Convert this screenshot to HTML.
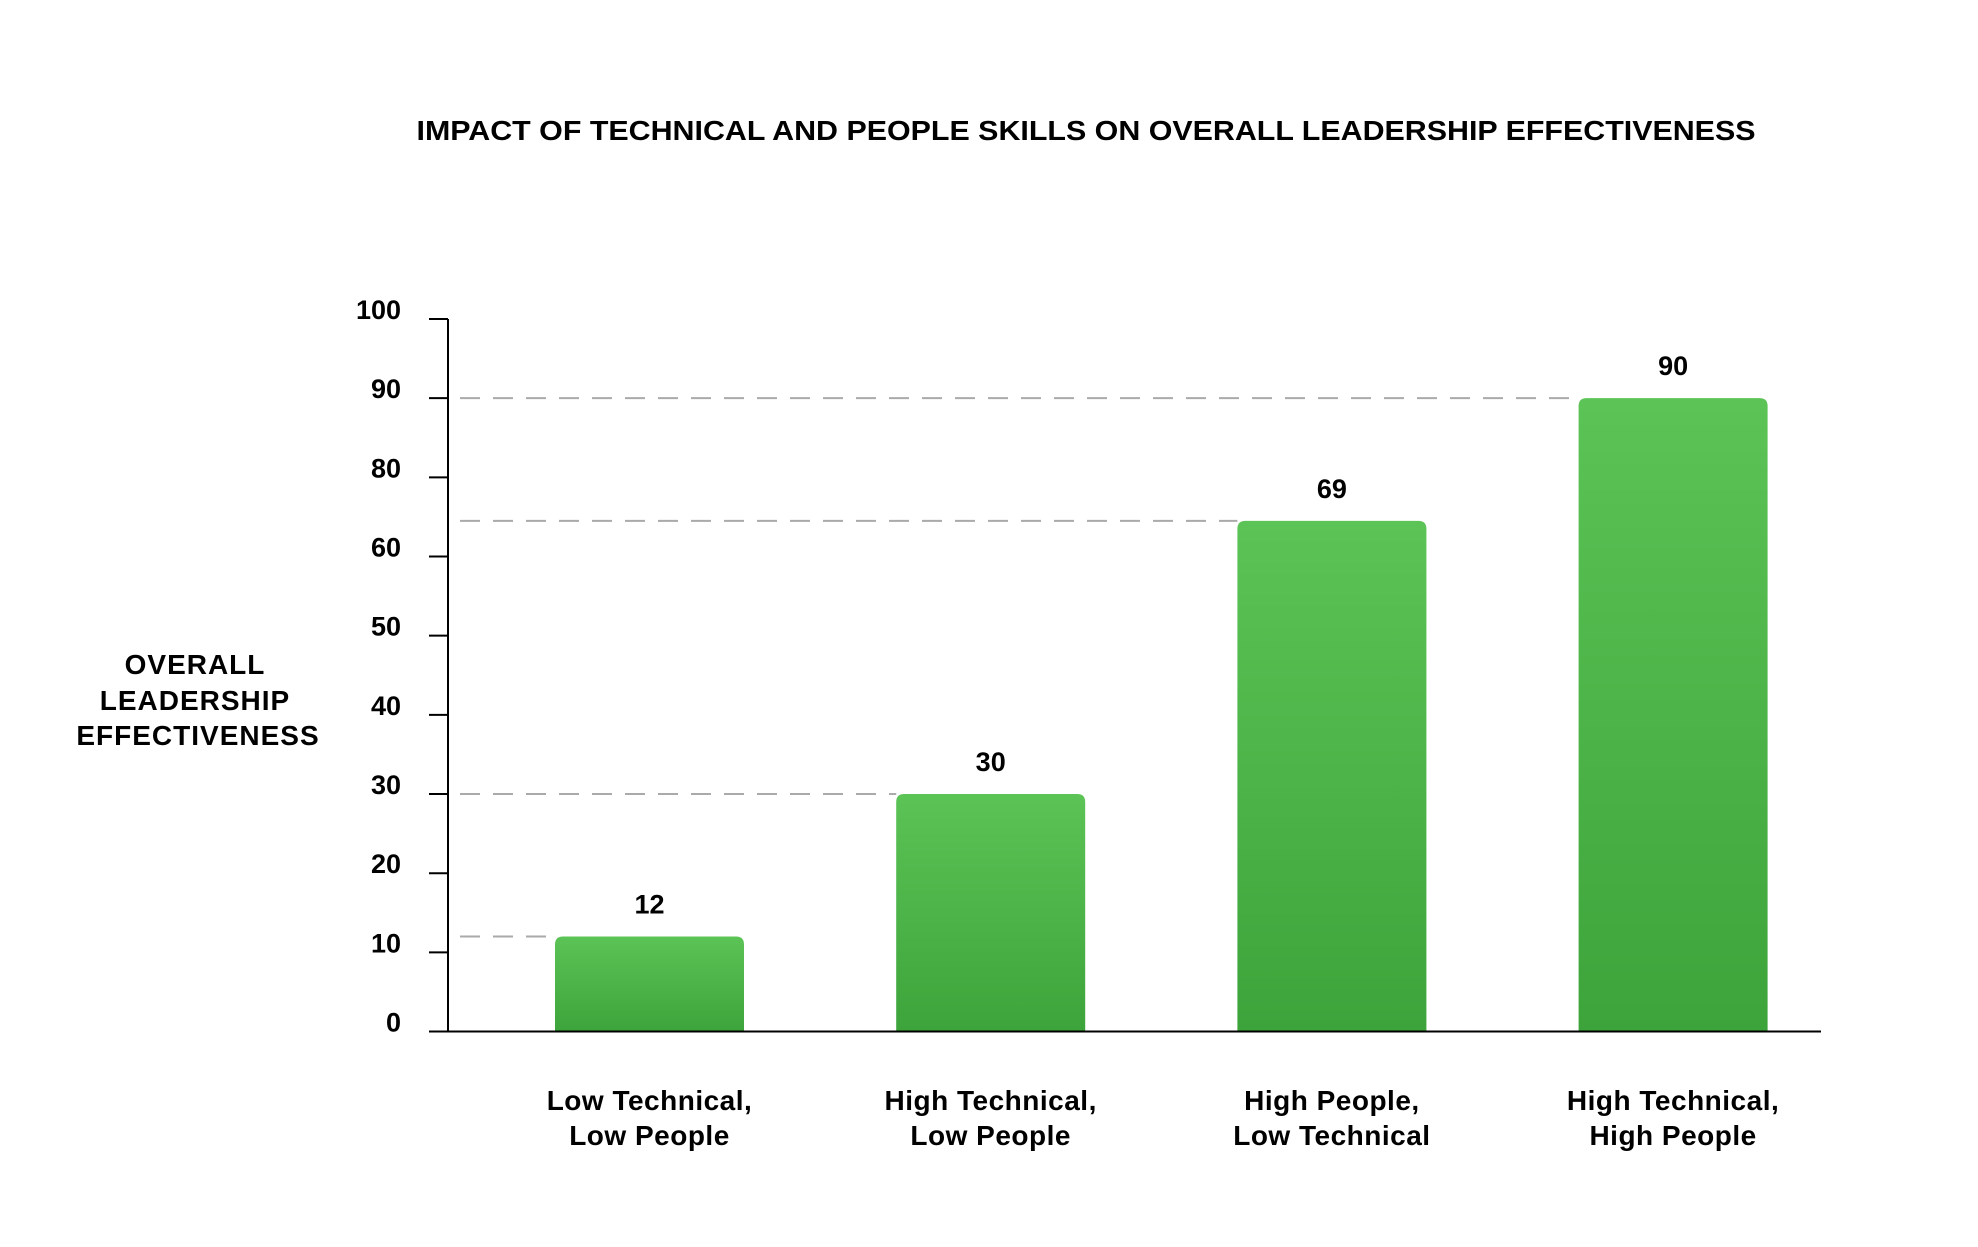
<!DOCTYPE html>
<html><head><meta charset="utf-8"><style>
html,body{margin:0;padding:0;background:#fff;}
svg{display:block;font-family:"Liberation Sans",sans-serif;}
</style></head><body>
<svg id="chart" width="1978" height="1247" viewBox="0 0 1978 1247" xmlns="http://www.w3.org/2000/svg">
<defs><linearGradient id="g" x1="0" y1="0" x2="0" y2="1"><stop offset="0" stop-color="#5cc456"/><stop offset="1" stop-color="#3ca43a"/></linearGradient></defs>
<text x="1086" y="140" text-anchor="middle" font-size="28" font-weight="600" textLength="1339" lengthAdjust="spacingAndGlyphs" fill="#000">IMPACT OF TECHNICAL AND PEOPLE SKILLS ON OVERALL LEADERSHIP EFFECTIVENESS</text>
<g font-size="28" font-weight="600" text-anchor="middle" fill="#000" letter-spacing="1">
<text x="195" y="674">OVERALL</text><text x="195" y="710">LEADERSHIP</text><text x="198" y="745">EFFECTIVENESS</text>
</g>
<g id="grid"></g><g id="bars"></g><g id="axes"></g>
</svg>
<script>
const tickValues=[100,90,80,60,50,40,30,20,10,0];
const categories=[["Low Technical,","Low People"],["High Technical,","Low People"],["High People,","Low Technical"],["High Technical,","High People"]];
const values=[12,30,69,90];
const valueLabels=["12","30","69","90"];
const NS="http://www.w3.org/2000/svg";
const top0=319,step=79.17,axisX=448,baseY=1031.5;
function tickY(i){return top0+i*step;}
function yScale(v){
  for(let i=0;i<tickValues.length-1;i++){
    const a=tickValues[i],b=tickValues[i+1];
    if(v<=a&&v>=b){return tickY(i)+(a-v)/(a-b)*step;}
  }
  return baseY;
}
function xCenter(i){return 649.5+i*341.2;}
const barW=189;
function mk(tag,attrs,parent){const e=document.createElementNS(NS,tag);for(const k in attrs)e.setAttribute(k,attrs[k]);parent.appendChild(e);return e;}
const axes=document.getElementById('axes'),grid=document.getElementById('grid'),bars=document.getElementById('bars');
let ax=mk('line',{x1:axisX,y1:top0,x2:axisX,y2:baseY,stroke:'#000','stroke-width':2},axes);


let xl=mk('line',{x1:429,y1:baseY,x2:1821,y2:baseY,stroke:'#000','stroke-width':2},axes);


tickValues.forEach((v,i)=>{
  const y=tickY(i);
  const t=mk('line',{x1:429,y1:y,x2:axisX,y2:y,stroke:'#000','stroke-width':2},axes);
  
  
  const l=mk('text',{x:401,y:y,'text-anchor':'end','font-size':27,'font-weight':600,fill:'#000'},axes);
  l.textContent=String(v);
  
  
});
values.forEach((v,i)=>{
  const y=yScale(v),cx=xCenter(i),x=cx-barW/2;
  const d=mk('line',{x1:axisX+2,y1:y,x2:x,y2:y,stroke:'#aaa','stroke-width':2,'stroke-dasharray':'20 13','stroke-dashoffset':'-10'},grid);
  
  
  const p=mk('path',{d:`M${x},${baseY}V${y+8}Q${x},${y} ${x+8},${y}H${x+barW-8}Q${x+barW},${y} ${x+barW},${y+8}V${baseY}Z`,fill:'url(#g)'},bars);
  
  
  const vl=mk('text',{x:cx,y:y-23,'text-anchor':'middle','font-size':27,'font-weight':600,fill:'#000'},bars);
  vl.textContent=valueLabels[i];
  
  
  categories[i].forEach((line,j)=>{
    const c=mk('text',{x:cx,y:1110+j*35,'text-anchor':'middle','font-size':28,'font-weight':600,fill:'#000','letter-spacing':0.5},bars);
    c.textContent=line;
    
    
  });
});
</script>
</body></html>
